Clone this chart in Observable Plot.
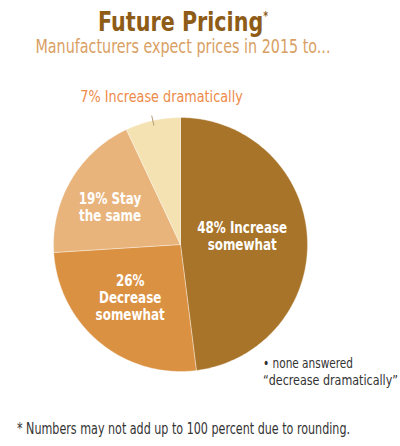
<!DOCTYPE html>
<html><head><meta charset="utf-8">
<script src="https://cdn.jsdelivr.net/npm/d3@7"></script>
<script src="https://cdn.jsdelivr.net/npm/@observablehq/plot@0.6"></script>
<style>
html,body{margin:0;padding:0;background:#fff;}
body{width:400px;height:446px;position:relative;overflow:hidden;font-family:"DejaVu Sans Condensed","DejaVu Sans",sans-serif;}
.t{position:absolute;white-space:nowrap;display:inline-block;}
#chart{position:absolute;left:0;top:60px;}
</style></head><body>
<div id="title" class="t" style="color:#8E5C17;font-weight:bold;">Future Pricing<span style="font-size:0.45em;vertical-align:0.9em;">*</span></div>
<div id="subtitle" class="t" style="color:#D9A063;">Manufacturers expect prices in 2015 to...</div>
<div id="chart"></div>
<div id="note1" class="t" style="color:#333;">• none answered</div>
<div id="note2" class="t" style="color:#333;">“decrease dramatically”</div>
<div id="foot" class="t" style="color:#333;">* Numbers may not add up to 100 percent due to rounding.</div>
<script>
// ---- data ----
const categories = ["Increase somewhat", "Decrease somewhat", "Stay the same", "Increase dramatically"];
const percents = [48, 26, 19, 7];
const sliceLabels = ["48% Increase\nsomewhat", "26%\nDecrease\nsomewhat", "19% Stay\nthe same", "7% Increase dramatically"];
const sliceColors = ["#A87429", "#DB9142", "#E8B47C", "#F4E2B2"];

// ---- label layout (fraction of radius, angle tweak in degrees) ----
const labelLayout = [{r: 0.49, da: -4}, {r: 0.575, da: 4}, {r: 0.63, da: -2.4}, {r: 1.19, da: 0}];

// ---- pie geometry from data ----
const data = categories.map((c, i) => ({category: c, value: percents[i], label: sliceLabels[i]}));
const arcs = d3.pie().sort(null).value(d => d.value)(data);
const polar = (a, r) => ({x: r * Math.sin(a), y: r * Math.cos(a)});
const pts = [];
arcs.forEach(a => {
  const c = a.data.category;
  pts.push({category: c, ...polar(0, 0)});
  const n = Math.max(2, Math.ceil((a.endAngle - a.startAngle) / (Math.PI / 180)));
  for (let k = 0; k <= n; k++) {
    const ang = a.startAngle + (a.endAngle - a.startAngle) * k / n;
    pts.push({category: c, ...polar(ang, 1)});
  }
  pts.push({category: c, ...polar(0, 0)});
});
const mid = a => (a.startAngle + a.endAngle) / 2;
const lblPos = (a, i) => polar(mid(a) + labelLayout[i].da * Math.PI / 180, labelLayout[i].r);
const inner = arcs.slice(0, 3).map((a, i) => ({label: a.data.label, ...lblPos(a, i)}));
const outerArc = arcs[3];
const outer = [{label: outerArc.data.label, ...lblPos(outerArc, 3)}];
const p1 = polar(mid(outerArc), 0.96), p2 = polar(mid(outerArc), 1.04);
const leader = [{x1: p1.x, y1: p1.y, x2: p2.x, y2: p2.y}];

const W = 400, H = 340, R = 127, CX = 180, CY = 184;
const chart = Plot.plot({
  width: W, height: H,
  marginLeft: CX - R, marginRight: W - CX - R, marginTop: CY - R, marginBottom: H - CY - R,
  x: {domain: [-1, 1], axis: null},
  y: {domain: [-1, 1], axis: null},
  color: {domain: categories, range: sliceColors},
  style: {fontFamily: '"DejaVu Sans Condensed","DejaVu Sans",sans-serif', background: "transparent"},
  marks: [
    Plot.line(pts, {x: "x", y: "y", z: "category", fill: "category", stroke: "#ffffff", strokeWidth: 0.6, strokeOpacity: 0.6, curve: "linear"}),
    Plot.text(inner, {x: "x", y: "y", text: "label", fill: "#ffffff", fontWeight: "bold", fontSize: 15, lineHeight: 1.13, className: "inner-lbl"}),
    Plot.link(leader, {x1: "x1", y1: "y1", x2: "x2", y2: "y2", stroke: "#B39A78", strokeWidth: 1}),
    Plot.text(outer, {x: "x", y: "y", text: "label", fill: "#EE8A48", fontSize: 16, dx: 14, className: "outer-lbl"})
  ]
});
document.getElementById("chart").appendChild(chart);

// ---- condense SVG labels horizontally around their own centre ----
function condense(texts, s) {
  texts.forEach(t => {
    const b = t.getBBox();
    const c = b.x + b.width / 2;
    const prev = t.getAttribute("transform") || "";
    t.setAttribute("transform", `${prev} translate(${c},0) scale(${s},1) translate(${-c},0)`);
  });
}
const innerTexts = [...chart.querySelectorAll(".inner-lbl text")];
if (innerTexts.length) condense(innerTexts, 90 / innerTexts[0].getBBox().width);
const outerTexts = [...chart.querySelectorAll(".outer-lbl text")];
if (outerTexts.length) condense(outerTexts, 163 / outerTexts[0].getBBox().width);

// ---- fit the HTML texts ----
function fit(id, {size, baseline, width, cx, left}) {
  const el = document.getElementById(id);
  el.style.fontSize = size + "px";
  el.style.lineHeight = size + "px";
  el.style.top = (baseline - 0.846 * size) + "px";
  const w = el.getBoundingClientRect().width;
  const s = width / w;
  if (cx !== undefined) {
    el.style.left = (cx - w / 2) + "px";
    el.style.transformOrigin = "50% 50%";
  } else {
    el.style.left = left + "px";
    el.style.transformOrigin = "0 50%";
  }
  el.style.transform = `scaleX(${s})`;
}
fit("title", {size: 26, baseline: 25, width: 170, cx: 183});
fit("subtitle", {size: 19, baseline: 53, width: 295, cx: 182.5});
fit("note1", {size: 14.5, baseline: 368, width: 90, left: 263});
fit("note2", {size: 14.5, baseline: 385, width: 135, left: 263});
fit("foot", {size: 15.5, baseline: 435, width: 333, left: 17});
</script>
</body></html>
